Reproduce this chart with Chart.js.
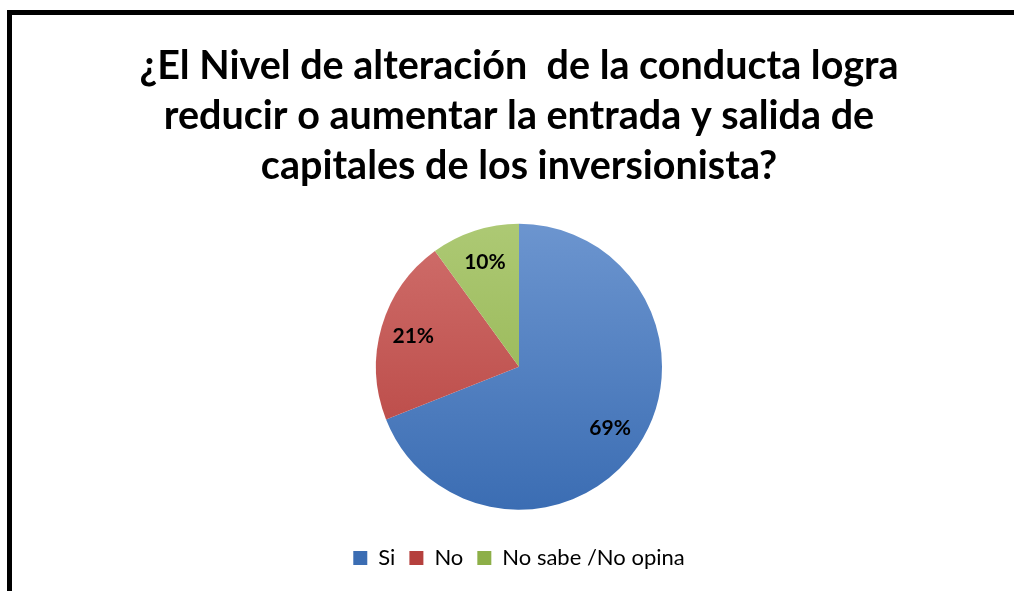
<!DOCTYPE html>
<html>
<head>
<meta charset="utf-8">
<script src="https://cdn.jsdelivr.net/npm/chart.js@4.4.1/dist/chart.umd.min.js"></script>
<style>
html,body{margin:0;padding:0;width:1014px;height:591px;overflow:hidden;background:#fff;}
#box{position:absolute;left:7px;top:10px;width:1100px;height:700px;border:5px solid #000;}
#wrap{position:absolute;left:12px;top:15px;width:1002px;height:576px;}
</style>
</head>
<body>
<div id="box"></div>
<div id="wrap"><canvas id="c"></canvas></div>
<script>
const categories = ['Si', 'No', 'No sabe /No opina'];
const values = [69, 21, 10];
const titleLines = ['¿El Nivel de alteración  de la conducta logra', 'reducir o aumentar la entrada y salida de', 'capitales de los inversionista?'];

const PIE_R = 143;
const gradStops = [
  ['#6c95cf', '#3b6db3'],
  ['#d06f6c', '#b5403d'],
  ['#adc974', '#8daf48']
];

function makeGrad(chart, i) {
  const area = chart.chartArea;
  if (!area) return gradStops[i][1];
  const cy = (area.top + area.bottom) / 2;
  const g = chart.ctx.createLinearGradient(0, cy - PIE_R, 0, cy + PIE_R);
  g.addColorStop(0, gradStops[i][0]);
  g.addColorStop(1, gradStops[i][1]);
  return g;
}

const labelPlugin = {
  id: 'pctLabels',
  afterDatasetsDraw(chart) {
    const ctx = chart.ctx;
    const meta = chart.getDatasetMeta(0);
    const total = values.reduce((a, b) => a + b, 0);
    ctx.save();
    ctx.font = 'bold 21px Lato';
    ctx.fillStyle = '#000';
    ctx.textAlign = 'center';
    ctx.textBaseline = 'middle';
    meta.data.forEach((arc, i) => {
      const p = arc.getProps(['x', 'y', 'startAngle', 'endAngle', 'outerRadius'], true);
      const mid = (p.startAngle + p.endAngle) / 2;
      const r = p.outerRadius * 0.77;
      const x = p.x + Math.cos(mid) * r;
      const y = p.y + Math.sin(mid) * r;
      ctx.fillText(Math.round(values[i] / total * 100) + '%', x, y);
    });
    ctx.restore();
  }
};

new Chart(document.getElementById('c'), {
  type: 'pie',
  data: {
    labels: categories,
    datasets: [{
      data: values,
      radius: PIE_R,
      backgroundColor: (c) => makeGrad(c.chart, c.dataIndex),
      borderWidth: 0
    }]
  },
  options: {
    responsive: true,
    maintainAspectRatio: false,
    animation: false,
    layout: { padding: { left: 12, right: 0, top: 0, bottom: 12 } },
    plugins: {
      title: {
        display: true,
        text: titleLines,
        color: '#000',
        font: { family: 'Lato', size: 39.5, weight: 'bold', lineHeight: 1.27 },
        padding: { top: 26, bottom: 9 }
      },
      legend: {
        position: 'bottom',
        labels: {
          color: '#000',
          font: { family: 'Lato', size: 22 },
          boxWidth: 14,
          boxHeight: 14,
          padding: 14
        }
      },
      tooltip: { enabled: false }
    }
  },
  plugins: [labelPlugin]
});
</script>
</body>
</html>
